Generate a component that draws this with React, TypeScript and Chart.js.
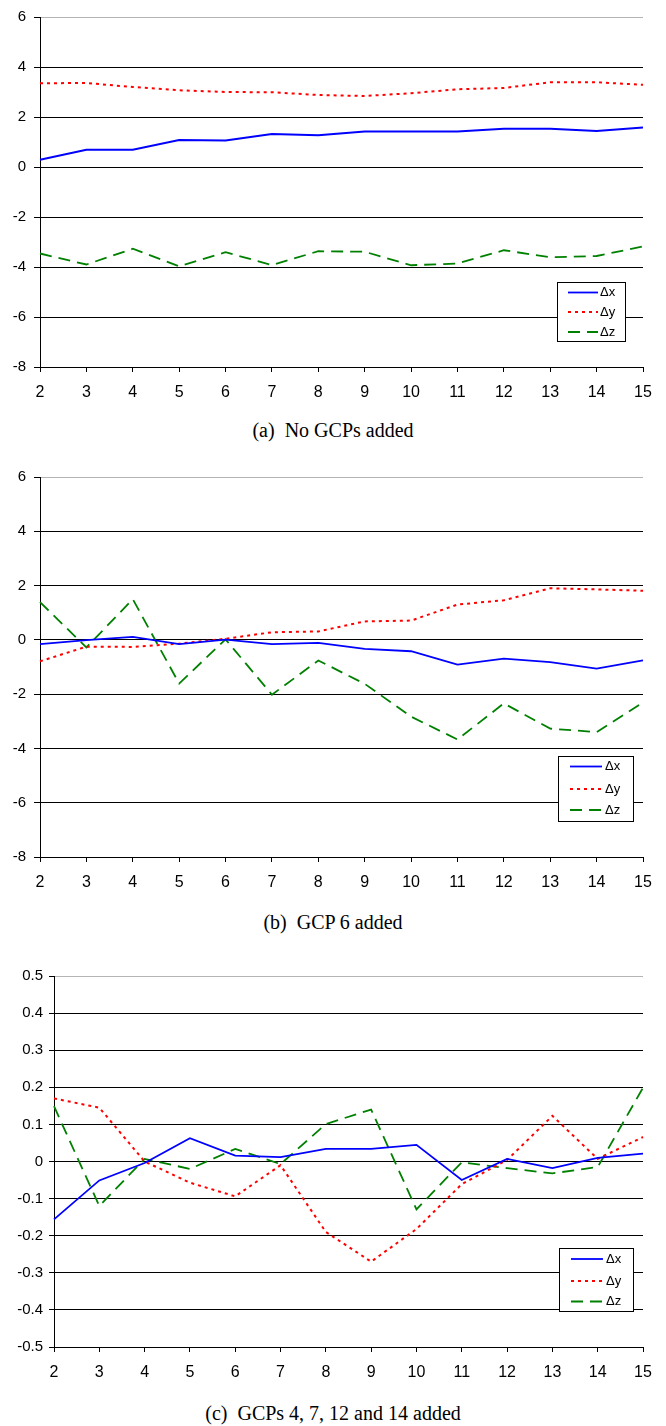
import React, { useEffect, useRef } from 'react';
import { Chart, registerables } from 'chart.js';

Chart.register(...registerables);

// ---------- data ----------
const CATEGORIES = ['2', '3', '4', '5', '6', '7', '8', '9', '10', '11', '12', '13', '14', '15'];
const SERIES_LABELS = ['Δx', 'Δy', 'Δz'];

// (a) No GCPs added
const A_DX = [0.29, 0.69, 0.69, 1.08, 1.06, 1.32, 1.27, 1.42, 1.42, 1.42, 1.53, 1.53, 1.44, 1.58];
const A_DY = [3.35, 3.36, 3.2, 3.07, 3.0, 2.99, 2.88, 2.84, 2.95, 3.11, 3.16, 3.39, 3.39, 3.29];
const A_DZ = [-3.46, -3.9, -3.27, -3.97, -3.41, -3.92, -3.37, -3.39, -3.93, -3.86, -3.33, -3.61, -3.56, -3.18];

// (b) GCP 6 added
const B_DX = [-0.16, -0.01, 0.11, -0.16, 0.01, -0.16, -0.11, -0.33, -0.42, -0.91, -0.69, -0.82, -1.06, -0.76];
const B_DY = [-0.79, -0.25, -0.26, -0.14, 0.04, 0.28, 0.31, 0.68, 0.71, 1.3, 1.46, 1.9, 1.86, 1.81];
const B_DZ = [1.39, -0.28, 1.5, -1.61, 0.02, -2.02, -0.76, -1.62, -2.83, -3.67, -2.34, -3.27, -3.4, -2.31];

// (c) GCPs 4, 7, 12 and 14 added
const C_DX = [-0.156, -0.051, -0.004, 0.063, 0.016, 0.012, 0.034, 0.034, 0.045, -0.05, 0.007, -0.018, 0.01, 0.021];
const C_DY = [0.17, 0.145, 0.0, -0.057, -0.094, -0.01, -0.19, -0.27, -0.182, -0.061, 0.004, 0.123, 0.007, 0.066];
const C_DZ = [0.149, -0.12, 0.007, -0.02, 0.034, -0.007, 0.101, 0.14, -0.129, -0.002, -0.018, -0.032, -0.015, 0.199];

// y-axis ranges
const Y_RANGE_AB = { min: -8, max: 6, step: 2 };
const Y_RANGE_C = { min: -0.5, max: 0.5, step: 0.1 };

const CAPTIONS = ['(a)  No GCPs added', '(b)  GCP 6 added', '(c)  GCPs 4, 7, 12 and 14 added'];

// ---------- styles ----------
const SERIES_STYLES = [
  { borderColor: '#0000ff', borderWidth: 1.8, borderDash: [] as number[] },
  { borderColor: '#ff0000', borderWidth: 2, borderDash: [3, 4] },
  { borderColor: '#008000', borderWidth: 1.8, borderDash: [12, 7] },
];

type LegendBox = {
  left: number; top: number; right: number; bottom: number;
  rows: number[]; lineX1: number; lineX2: number; textX: number;
};

type PanelProps = {
  top: number; height: number;
  area: { top: number; bottom: number; left: number; right: number };
  range: { min: number; max: number; step: number };
  tickLen: number; tickPad: number;
  series: number[][];
  legend: LegendBox;
  decimals: number;
};

function makeLegendPlugin(box: LegendBox) {
  return {
    id: 'legendBoxCustom',
    afterDraw(chart: any) {
      const ctx = chart.ctx as CanvasRenderingContext2D;
      ctx.save();
      ctx.fillStyle = '#ffffff';
      ctx.fillRect(box.left, box.top, box.right - box.left, box.bottom - box.top);
      ctx.strokeStyle = '#000000';
      ctx.lineWidth = 1;
      ctx.setLineDash([]);
      ctx.strokeRect(box.left + 0.5, box.top + 0.5, box.right - box.left, box.bottom - box.top);
      chart.data.datasets.forEach((ds: any, i: number) => {
        const y = box.rows[i];
        ctx.beginPath();
        ctx.setLineDash(ds.borderDash || []);
        ctx.lineWidth = ds.borderWidth;
        ctx.strokeStyle = ds.borderColor;
        ctx.moveTo(box.lineX1, y);
        ctx.lineTo(box.lineX2, y);
        ctx.stroke();
        ctx.setLineDash([]);
        ctx.fillStyle = '#000000';
        ctx.font = '13px "Liberation Sans", Arial, sans-serif';
        ctx.textBaseline = 'middle';
        ctx.textAlign = 'left';
        ctx.fillText(ds.label, box.textX, y);
      });
      ctx.restore();
    },
  };
}

function Panel(p: PanelProps) {
  const ref = useRef<HTMLCanvasElement | null>(null);
  useEffect(() => {
    if (!ref.current) return;
    const { area, range } = p;
    const chart = new Chart(ref.current, {
      type: 'line',
      data: {
        labels: CATEGORIES,
        datasets: p.series.map((s, i) => ({
          label: SERIES_LABELS[i],
          data: s,
          borderColor: SERIES_STYLES[i].borderColor,
          borderWidth: SERIES_STYLES[i].borderWidth,
          borderDash: SERIES_STYLES[i].borderDash,
          pointRadius: 0,
          tension: 0,
          fill: false,
        })),
      },
      options: {
        responsive: false,
        animation: false,
        devicePixelRatio: 1,
        layout: { padding: { top: area.top, left: 0, right: 666 - area.right, bottom: 0 } },
        plugins: { legend: { display: false }, tooltip: { enabled: false }, title: { display: false } },
        scales: {
          x: {
            type: 'category',
            offset: false,
            grid: { drawOnChartArea: false, drawTicks: true, tickLength: 5, tickColor: '#000', color: '#000' },
            border: { display: true, color: '#000', width: 1 },
            ticks: {
              color: '#000', autoSkip: false, maxRotation: 0, minRotation: 0, padding: 11,
              font: { family: '"Liberation Sans", Arial, sans-serif', size: 16 },
            },
            afterFit: (scale: any) => { scale.height = p.height - area.bottom; },
          },
          y: {
            type: 'linear',
            min: range.min,
            max: range.max,
            ticks: {
              stepSize: range.step,
              color: '#000',
              padding: p.tickPad,
              font: { family: '"Liberation Sans", Arial, sans-serif', size: 15 },
              callback: (v: any) => {
                const n = Number(v);
                const r = Math.round(n * Math.pow(10, p.decimals)) / Math.pow(10, p.decimals);
                return String(r === 0 ? 0 : r);
              },
            },
            grid: {
              drawTicks: true,
              tickLength: p.tickLen,
              tickColor: '#000',
              lineWidth: 1,
              color: (c: any) => (c.tick && Math.abs(c.tick.value - range.max) < 1e-9 ? '#b4b4b4' : '#000'),
            },
            border: { display: true, color: '#000', width: 1 },
            afterFit: (scale: any) => { scale.width = area.left; },
          },
        },
      },
      plugins: [makeLegendPlugin(p.legend)],
    } as any);
    return () => chart.destroy();
  }, []);
  return (
    <canvas
      ref={ref}
      width={666}
      height={p.height}
      style={{ position: 'absolute', left: 0, top: p.top, width: 666, height: p.height }}
    />
  );
}

const captionStyle = (center: number): React.CSSProperties => ({
  position: 'absolute',
  left: 0,
  width: 666,
  top: center - 12,
  height: 24,
  lineHeight: '24px',
  textAlign: 'center',
  fontFamily: '"Liberation Serif", "Times New Roman", serif',
  fontSize: 20,
  whiteSpace: 'pre',
  color: '#000',
});

export default function App() {
  return (
    <div style={{ position: 'absolute', left: 0, top: 0, width: 666, height: 1426, background: '#fff', overflow: 'hidden' }}>
      <Panel
        top={0}
        height={410}
        area={{ top: 11, bottom: 367, left: 40, right: 643 }}
        range={Y_RANGE_AB}
        tickLen={6}
        tickPad={8}
        decimals={0}
        series={[A_DX, A_DY, A_DZ]}
        legend={{ left: 557, top: 282, right: 625, bottom: 341, rows: [292.5, 312, 332], lineX1: 568, lineX2: 598, textX: 600 }}
      />
      <div style={captionStyle(430)}>{CAPTIONS[0]}</div>
      <Panel
        top={460}
        height={440}
        area={{ top: 17, bottom: 397, left: 40, right: 643 }}
        range={Y_RANGE_AB}
        tickLen={6}
        tickPad={8}
        decimals={0}
        series={[B_DX, B_DY, B_DZ]}
        legend={{ left: 558, top: 296, right: 633, bottom: 361, rows: [306.5, 329, 350], lineX1: 570, lineX2: 602, textX: 605 }}
      />
      <div style={captionStyle(922)}>{CAPTIONS[1]}</div>
      <Panel
        top={950}
        height={440}
        area={{ top: 26, bottom: 397, left: 54, right: 643 }}
        range={Y_RANGE_C}
        tickLen={5}
        tickPad={6}
        decimals={1}
        series={[C_DX, C_DY, C_DZ]}
        legend={{ left: 559, top: 298, right: 633, bottom: 361, rows: [309, 331, 351.5], lineX1: 571, lineX2: 603, textX: 606 }}
      />
      <div style={captionStyle(1413)}>{CAPTIONS[2]}</div>
    </div>
  );
}
